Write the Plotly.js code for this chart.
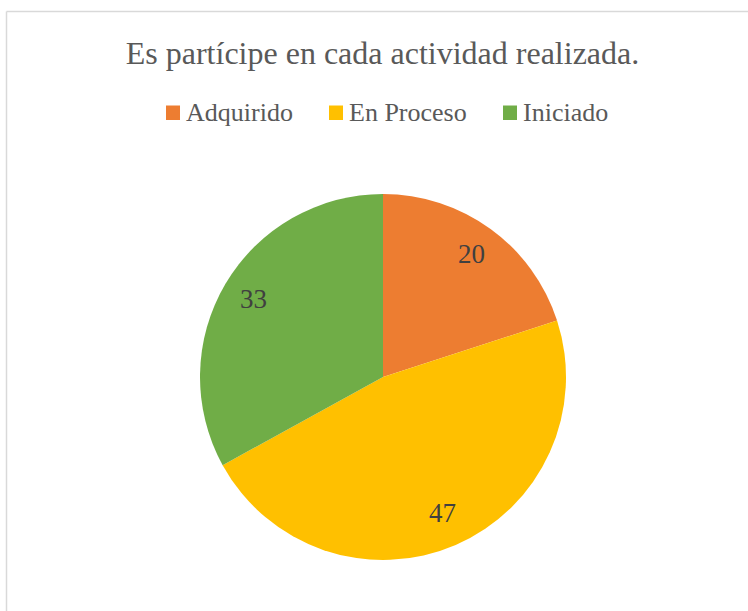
<!DOCTYPE html>
<html><head><meta charset="utf-8">
<script src="https://cdn.plot.ly/plotly-3.0.1.min.js"></script>
<style>html,body{margin:0;padding:0;background:#fff;}#chart{width:748px;height:611px;}</style>
</head><body><div id="chart"></div>
<script>
const categories = ["Adquirido", "En Proceso", "Iniciado"];
const values = [20, 47, 33];
const colors = ["#ED7D31", "#FFC000", "#70AD47"];
const W = 748, H = 611;
const cx = 383, cy = 377, r = 183;
const SERIF = "Liberation Serif";

const trace = {
  type: "pie",
  labels: categories,
  values: values,
  sort: false,
  direction: "clockwise",
  rotation: 0,
  marker: {colors: colors, line: {color: "#ffffff", width: 0}},
  textinfo: "none",
  domain: {x: [(cx - r) / W, (cx + r) / W], y: [1 - (cy + r) / H, 1 - (cy - r) / H]},
  hoverinfo: "label+value",
  showlegend: false
};

// data labels placed at 0.82 of the radius along each slice's mid-angle
const total = values.reduce((a, b) => a + b, 0);
const annotations = [];
let acc = 0;
values.forEach((v, i) => {
  const mid = (acc + v / 2) / total * 2 * Math.PI;
  acc += v;
  const px = cx + 0.82 * r * Math.sin(mid);
  const py = cy - 0.82 * r * Math.cos(mid) - 2;
  annotations.push({xref: "paper", yref: "paper", x: px / W, y: 1 - py / H, text: String(v), showarrow: false,
    xanchor: "center", yanchor: "middle", font: {family: SERIF, size: 27, color: "#404040"}});
});

// manual legend (layout positions)
const legendSquares = [166, 329, 503];
const shapes = [
  {type: "line", xref: "paper", yref: "paper", x0: 6.5 / W, x1: 1, y0: 1 - 11.5 / H, y1: 1 - 11.5 / H, line: {color: "#D9D9D9", width: 1.5}},
  {type: "line", xref: "paper", yref: "paper", x0: 6.5 / W, x1: 6.5 / W, y0: 0, y1: 1 - 11.5 / H, line: {color: "#D9D9D9", width: 1.5}}
];
categories.forEach((c, i) => {
  const x0 = legendSquares[i];
  shapes.push({type: "rect", xref: "paper", yref: "paper", x0: x0 / W, x1: (x0 + 14) / W,
    y0: 1 - 120 / H, y1: 1 - 105.5 / H, fillcolor: colors[i], line: {width: 0}});
  annotations.push({xref: "paper", yref: "paper", x: (x0 + 18) / W, y: 1 - 112 / H, text: c, showarrow: false,
    xanchor: "left", yanchor: "middle", font: {family: SERIF, size: 26, color: "#595959"}});
});

const layout = {
  width: W, height: H,
  margin: {l: 0, r: 0, t: 0, b: 0},
  paper_bgcolor: "#ffffff",
  font: {family: SERIF, color: "#595959"},
  title: {text: "Es partícipe en cada actividad realizada.", font: {family: SERIF, size: 32, color: "#595959"},
          x: 382.5 / W, xanchor: "center", y: 1 - 53 / H, yanchor: "middle", xref: "paper", yref: "paper"},
  showlegend: false,
  annotations: annotations,
  shapes: shapes
};

Plotly.newPlot("chart", [trace], layout, {displayModeBar: false, staticPlot: true});
</script></body></html>
